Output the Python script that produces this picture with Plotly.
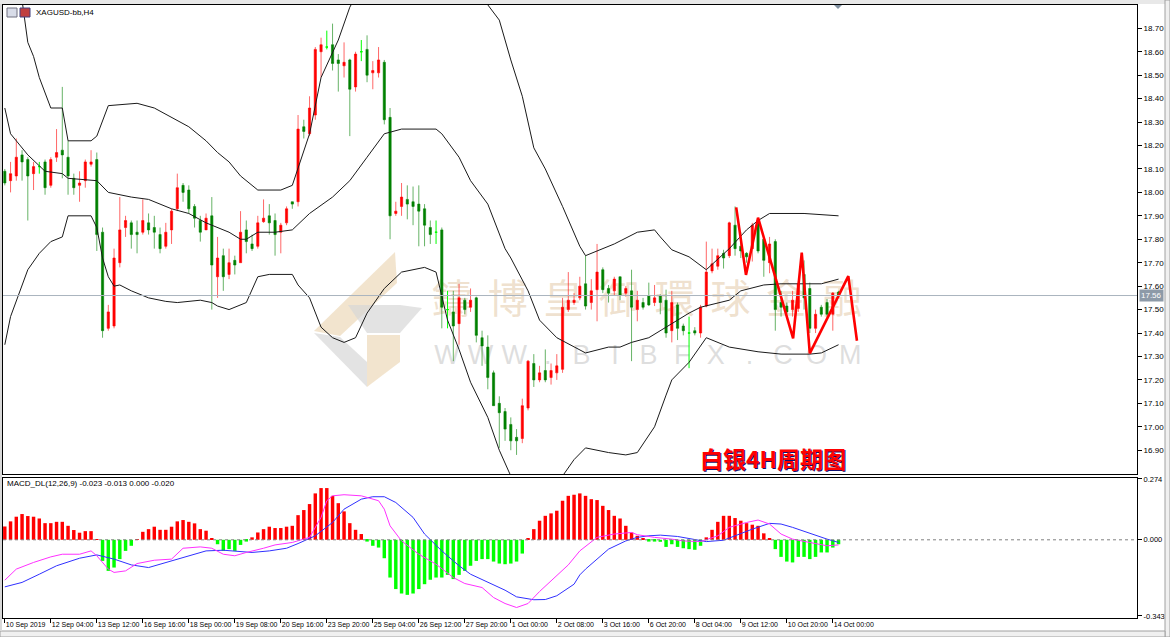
import plotly.graph_objects as go
from plotly.subplots import make_subplots

# ---------------- data ----------------
open_ = [18.09,18.05,18.07,18.16,18.14,18.08,18.11,18.13,18.03,18.15,
         18.18,18.15,18.06,18.03,18.05,18.12,18.14,17.83,17.42,17.43,
         17.70,17.85,17.87,17.83,17.83,17.87,17.85,17.82,17.77,17.84,
         17.93,18.03,18.01,17.94,17.88,17.84,17.90,17.64,17.73,17.65,
         17.71,17.70,17.84,17.78,17.77,17.875,17.90,17.88,17.83,17.87,
         17.96,17.96,18.28,18.25,18.33,18.60,18.62,18.63,18.565,18.54,
         18.565,18.45,18.60,18.61,18.51,18.51,18.555,18.32,17.91,17.94,
         17.97,17.96,17.95,17.93,17.85,17.83,17.84,17.50,17.49,17.44,
         17.54,17.51,17.55,17.38,17.34,17.23,17.10,17.065,17.01,16.955,
         16.95,17.08,17.27,17.20,17.24,17.21,17.23,17.245,17.50,17.53,
         17.55,17.61,17.53,17.585,17.67,17.59,17.58,17.64,17.57,17.58,
         17.50,17.53,17.56,17.53,17.56,17.54,17.41,17.52,17.43,17.40,
         17.41,17.40,17.515,17.665,17.685,17.74,17.73,17.86,17.77,17.74,
         17.76,17.88,17.80,17.70,17.79,17.53,17.515,17.50,17.505,17.65,
         17.59,17.42,17.51,17.53,17.48,17.575]
high = [18.10,18.13,18.23,18.18,18.15,18.13,18.13,18.14,18.15,18.27,
        18.45,18.22,18.08,18.09,18.14,18.18,18.17,17.85,17.52,17.76,
        17.98,17.90,17.88,17.88,17.97,17.91,17.90,17.85,17.87,17.93,
        18.08,18.04,18.03,17.95,17.90,17.91,17.98,17.81,17.76,17.76,
        17.73,17.92,17.88,17.82,17.90,17.97,17.95,17.91,17.87,17.94,
        17.96,18.33,18.31,18.41,18.62,18.66,18.69,18.72,18.59,18.64,
        18.57,18.60,18.65,18.67,18.56,18.62,18.565,18.36,17.96,18.04,
        18.03,18.025,18.03,17.95,17.88,17.88,17.85,17.58,17.58,17.61,
        17.55,17.59,17.555,17.41,17.39,17.24,17.13,17.08,17.04,16.99,
        17.12,17.285,17.31,17.26,17.33,17.27,17.31,17.55,17.66,17.57,
        17.64,17.73,17.63,17.78,17.68,17.605,17.64,17.64,17.60,17.67,
        17.58,17.55,17.615,17.605,17.565,17.585,17.58,17.53,17.44,17.47,
        17.425,17.52,17.79,17.76,17.76,17.755,17.875,17.94,17.83,17.745,
        17.87,17.89,17.81,17.81,17.80,17.58,17.53,17.58,17.62,17.71,
        17.615,17.50,17.52,17.545,17.575,17.58]
low = [18.03,18.00,18.05,18.05,17.88,18.01,18.08,17.99,18.02,18.13,
       18.06,17.99,17.99,17.96,18.02,18.11,17.75,17.38,17.41,17.42,
       17.68,17.81,17.76,17.74,17.82,17.82,17.76,17.74,17.76,17.78,
       17.92,17.96,17.91,17.85,17.79,17.84,17.50,17.55,17.58,17.63,
       17.65,17.70,17.74,17.75,17.76,17.87,17.82,17.73,17.74,17.86,
       17.93,17.94,18.23,18.24,18.31,18.49,18.61,18.52,18.43,18.49,
       18.24,18.43,18.56,18.47,18.44,18.49,18.29,17.80,17.90,17.90,
       17.885,17.86,17.77,17.77,17.78,17.78,17.42,17.42,17.28,17.35,
       17.48,17.49,17.36,17.26,17.16,17.09,16.91,16.94,16.90,16.88,
       16.93,17.07,17.17,17.19,17.19,17.18,17.20,17.23,17.49,17.52,
       17.54,17.50,17.50,17.45,17.57,17.53,17.56,17.54,17.555,17.28,
       17.45,17.50,17.515,17.515,17.48,17.38,17.36,17.37,17.39,17.25,
       17.39,17.38,17.51,17.655,17.67,17.675,17.72,17.73,17.72,17.70,
       17.705,17.74,17.64,17.655,17.41,17.47,17.48,17.47,17.49,17.50,
       17.40,17.40,17.47,17.47,17.41,17.55]
close_ = [18.04,18.08,18.15,18.13,18.07,18.11,18.11,18.02,18.14,18.17,
          18.16,18.07,18.02,18.04,18.13,18.13,17.82,17.41,17.49,17.72,
          17.84,17.88,17.82,17.82,17.88,17.84,17.83,17.76,17.83,17.92,
          18.02,18.00,17.93,17.89,17.83,17.89,17.69,17.72,17.64,17.70,
          17.69,17.83,17.79,17.76,17.87,17.89,17.87,17.82,17.86,17.93,
          17.95,18.27,18.26,18.36,18.61,18.63,18.62,18.55,18.55,18.555,
          18.44,18.59,18.60,18.50,18.52,18.565,18.31,17.90,17.92,17.98,
          17.95,17.94,17.92,17.86,17.82,17.83,17.51,17.50,17.43,17.55,
          17.50,17.54,17.39,17.345,17.21,17.09,17.06,16.99,16.94,16.94,
          17.09,17.28,17.20,17.23,17.20,17.24,17.26,17.51,17.54,17.54,
          17.60,17.515,17.58,17.66,17.585,17.57,17.63,17.56,17.59,17.51,
          17.54,17.51,17.52,17.55,17.53,17.40,17.53,17.42,17.41,17.40,
          17.40,17.51,17.66,17.695,17.73,17.72,17.87,17.76,17.75,17.725,
          17.86,17.75,17.71,17.78,17.50,17.51,17.49,17.54,17.61,17.55,
          17.42,17.48,17.48,17.48,17.57,17.56]
doji_bars = [6, 56, 62, 75, 77, 119]

# Bollinger bands read at sampled bars (bar index, price)
bb_upper_i = [0,2,3,4,5,6,8,10,11,15,16,18,23,26,29,32,35,37,39,41,44,48,50,53,55,58,60,
              62,66,70,75,80,84,86,88,90,92,94,97,100,101,102,106,110,113,114,116,119,
              122,126,129,131,133,139,145]
bb_upper_p = [19.20,18.95,18.82,18.64,18.58,18.49,18.36,18.36,18.22,18.22,18.24,18.37,18.38,
              18.36,18.32,18.28,18.22,18.17,18.13,18.07,18.01,18.01,18.03,18.25,18.49,18.65,
              18.79,18.88,18.95,18.98,18.97,18.92,18.80,18.735,18.565,18.41,18.19,18.10,
              17.94,17.77,17.73,17.74,17.78,17.83,17.84,17.81,17.755,17.725,17.67,17.76,
              17.84,17.88,17.91,17.91,17.90]
bb_mid_i = [0,1,4,7,10,11,16,18,22,25,29,32,35,39,41,42,44,47,50,53,57,60,63,66,69,71,75,76,
            79,81,84,87,88,91,93,96,99,101,105,107,109,112,115,119,121,126,128,132,135,139,
            142,145]
bb_mid_p = [18.36,18.25,18.16,18.09,18.08,18.06,18.05,18.00,17.98,17.97,17.93,17.91,17.87,
            17.83,17.80,17.80,17.83,17.83,17.84,17.91,17.98,18.05,18.15,18.25,18.27,18.27,
            18.27,18.25,18.15,18.05,17.95,17.76,17.72,17.58,17.455,17.38,17.34,17.315,17.34,
            17.34,17.36,17.38,17.425,17.485,17.51,17.54,17.58,17.605,17.61,17.61,17.61,17.63]
bb_lower_i = [0,1,4,6,8,10,11,15,16,17,18,19,20,22,25,28,30,34,36,37,39,42,44,46,50,51,53,
              55,57,59,61,63,66,69,73,75,77,79,81,84,86,88,90,93,95,97,99,101,105,108,110,
              113,115,116,119,122,126,131,135,140,142,145]
bb_lower_p = [17.35,17.47,17.67,17.74,17.79,17.81,17.90,17.90,17.85,17.72,17.64,17.60,17.605,
              17.58,17.55,17.535,17.53,17.54,17.53,17.515,17.50,17.53,17.64,17.65,17.65,17.605,
              17.55,17.425,17.38,17.36,17.38,17.485,17.59,17.66,17.68,17.66,17.455,17.33,17.19,
              17.04,16.90,16.79,16.72,16.70,16.73,16.79,16.86,16.91,16.89,16.88,16.89,17.00,
              17.135,17.20,17.275,17.38,17.34,17.32,17.31,17.31,17.315,17.35]

# MACD_DL histogram (one value per bar)
macd_hist = [0.060,0.083,0.104,0.116,0.107,0.104,0.096,0.075,0.075,0.081,0.081,0.063,0.044,
             0.032,0.039,0.039,0.003,
             -0.095,-0.140,-0.125,-0.087,-0.050,-0.027,0.002,
             0.036,0.048,0.059,0.045,0.045,0.059,0.083,0.089,0.081,0.074,0.048,0.041,0.006,
             -0.020,-0.050,-0.042,-0.050,-0.023,-0.008,
             0.011,0.033,0.048,0.059,0.053,0.053,0.059,0.063,0.111,0.134,0.161,0.209,0.233,
             0.233,0.198,0.165,0.128,0.075,0.045,0.026,
             -0.008,-0.027,-0.035,-0.083,-0.170,-0.222,-0.242,-0.248,-0.242,-0.222,-0.200,
             -0.180,-0.170,-0.170,-0.158,-0.177,-0.158,-0.140,-0.117,-0.095,-0.087,-0.087,
             -0.098,-0.107,-0.110,-0.107,-0.098,-0.062,
             0.006,0.048,0.086,0.108,0.119,0.131,0.176,0.198,0.203,0.209,0.198,0.183,0.179,
             0.153,0.134,0.108,0.096,0.063,0.033,0.018,0.006,
             -0.008,-0.008,-0.009,-0.032,-0.020,-0.032,-0.038,-0.042,-0.045,-0.027,
             0.011,0.045,0.081,0.108,0.108,0.098,0.086,0.075,0.068,0.063,0.029,0.006,
             -0.042,-0.077,-0.098,-0.102,-0.077,-0.077,-0.087,-0.077,-0.057,-0.057,-0.035,-0.020]
# MACD lines read at sampled bars
dif_i = [0,2,5,8,10,13,15,16,18,19,21,23,26,29,31,34,36,38,40,42,45,47,50,53,55,56,57,59,62,
         65,66,67,69,72,75,78,80,83,85,87,89,91,93,95,98,100,103,106,109,110,113,116,118,121,
         124,126,129,131,133,135,137,140,143,145]
dif_v = [-0.182,-0.132,-0.102,-0.077,-0.065,-0.065,-0.050,-0.072,-0.132,-0.147,-0.140,-0.107,
         -0.092,-0.087,-0.038,-0.032,-0.038,-0.065,-0.072,-0.057,-0.038,-0.023,-0.012,0.011,
         0.101,0.176,0.198,0.203,0.198,0.176,0.138,0.063,-0.005,-0.065,-0.110,-0.170,-0.197,
         -0.215,-0.260,-0.287,-0.305,-0.287,-0.233,-0.185,-0.113,-0.050,0.011,0.026,0.033,
         0.023,0.011,0.003,-0.005,-0.008,0.018,0.056,0.078,0.089,0.071,0.026,0.003,-0.012,
         -0.027,-0.023]
dea_i = [0,3,6,9,13,16,19,22,25,27,30,33,35,38,41,43,46,49,51,54,57,59,62,64,66,68,71,73,76,
         79,81,84,87,89,92,94,96,99,100,101,103,105,108,110,112,114,117,120,122,125,127,130,
         133,135,137,140,143,145]
dea_v = [-0.212,-0.192,-0.155,-0.117,-0.083,-0.068,-0.087,-0.113,-0.125,-0.110,-0.087,-0.065,
         -0.050,-0.047,-0.053,-0.057,-0.050,-0.038,-0.017,0.018,0.078,0.138,0.183,0.194,0.194,
         0.168,0.101,0.026,-0.050,-0.117,-0.155,-0.192,-0.227,-0.257,-0.270,-0.269,-0.252,
         -0.200,-0.158,-0.132,-0.085,-0.042,-0.005,0.011,0.018,0.021,0.015,0.003,-0.008,-0.002,
         0.018,0.048,0.074,0.071,0.056,0.029,0.003,-0.012]

# hand-drawn red zigzag (bar index, price)
zig_i = [127.2,128.9,131.0,137.1,138.6,140.0,146.7,148.2]
zig_p = [17.936,17.648,17.892,17.377,17.743,17.313,17.643,17.367]

price_ticks = [16.90,17.00,17.10,17.20,17.30,17.40,17.50,17.60,17.70,17.80,17.90,
               18.00,18.10,18.20,18.30,18.40,18.50,18.60,18.70]
macd_ticks = [0.274, 0.0, -0.343]
time_labels = ["10 Sep 2019","12 Sep 04:00","13 Sep 12:00","16 Sep 16:00","18 Sep 00:00",
               "19 Sep 08:00","20 Sep 16:00","23 Sep 20:00","25 Sep 04:00","26 Sep 12:00",
               "27 Sep 20:00","1 Oct 00:00","2 Oct 08:00","3 Oct 16:00","6 Oct 20:00",
               "8 Oct 04:00","9 Oct 12:00","10 Oct 20:00","14 Oct 00:00"]
time_label_bars = [0,8,16,24,32,40,48,56,64,72,80,88,96,104,112,120,128,136,144]
bid_price = 17.56
symbol_title = "XAGUSD-bb,H4"
macd_title = "MACD_DL(12,26,9) -0.023 -0.013 0.000 -0.020"
chart_caption = "白银4H周期图"
wm_cn = ["鑄", "博", "皇", "御", "環", "球", "金", "融"]
wm_en = ["W", "W", "W", ".", "B", "I", "B", "F", "X", ".", "C", "O", "M"]

# ---------------- geometry helpers ----------------
W, H = 1170, 637
ML, MR, MT, MB = 3, 33, 5, 19
PW, PH = W - ML - MR, H - MT - MB


def px(x):
    return (x - ML) / PW


def py(y):
    return (H - MB - y) / PH


FONT = "Liberation Sans"
n = len(close_)
norm = [i for i in range(n) if i not in doji_bars]

fig = make_subplots(rows=2, cols=1, shared_xaxes=True)

fig.add_trace(go.Candlestick(
    x=norm, open=[open_[i] for i in norm], high=[high[i] for i in norm],
    low=[low[i] for i in norm], close=[close_[i] for i in norm],
    increasing=dict(line=dict(color="rgba(255,0,0,0.6)", width=1), fillcolor="#ff0000"),
    decreasing=dict(line=dict(color="rgba(0,128,0,0.6)", width=1), fillcolor="#008000"),
    whiskerwidth=0, hoverinfo="skip"), row=1, col=1)
fig.add_trace(go.Candlestick(
    x=doji_bars, open=[open_[i] for i in doji_bars], high=[high[i] for i in doji_bars],
    low=[low[i] for i in doji_bars], close=[close_[i] for i in doji_bars],
    increasing=dict(line=dict(color="#00ff00", width=1), fillcolor="#00ff00"),
    decreasing=dict(line=dict(color="#00ff00", width=1), fillcolor="#00ff00"),
    whiskerwidth=0, hoverinfo="skip"), row=1, col=1)

for bx, by in [(bb_upper_i, bb_upper_p), (bb_mid_i, bb_mid_p), (bb_lower_i, bb_lower_p)]:
    fig.add_trace(go.Scatter(x=bx, y=by, mode="lines",
                             line=dict(color="#1a1a1a", width=1), hoverinfo="skip"),
                  row=1, col=1)

fig.add_trace(go.Scatter(x=zig_i, y=zig_p, mode="lines",
                         line=dict(color="#ff0000", width=2.6), hoverinfo="skip"),
              row=1, col=1)

fig.add_trace(go.Bar(x=list(range(n)), y=macd_hist, width=0.6,
                     marker=dict(color=["#ff0000" if v > 0 else "#00ff00" for v in macd_hist],
                                 line=dict(width=0)), hoverinfo="skip"), row=2, col=1)
fig.add_trace(go.Scatter(x=dea_i, y=dea_v, mode="lines",
                         line=dict(color="#3030ff", width=1), hoverinfo="skip"), row=2, col=1)
fig.add_trace(go.Scatter(x=dif_i, y=dif_v, mode="lines",
                         line=dict(color="#ff30ff", width=1), hoverinfo="skip"), row=2, col=1)

fig.add_hline(y=bid_price, row=1, col=1, line=dict(color="#aab4be", width=1))
fig.add_hline(y=0, row=2, col=1, line=dict(color="#808080", width=1, dash="dot"))

xr = [-(4.8 - ML) / 5.75, -(4.8 - ML) / 5.75 + PW / 5.75]
tickfont = dict(family=FONT, size=8, color="#000000")

fig.update_xaxes(range=xr, showgrid=False, zeroline=False, showline=True, mirror=True,
                 linecolor="#000000", linewidth=1, rangeslider_visible=False,
                 automargin=False)
fig.update_xaxes(showticklabels=False, ticks="", row=1, col=1)
fig.update_xaxes(tickmode="array", tickvals=time_label_bars, ticktext=time_labels,
                 ticks="outside", ticklen=4, tickcolor="#000000", tickangle=0,
                 ticklabelposition="outside right",
                 tickfont=dict(family=FONT, size=7, color="#000000"), row=2, col=1)

fig.update_yaxes(side="right", showgrid=False, zeroline=False, showline=True, mirror=True,
                 linecolor="#000000", linewidth=1, ticks="outside", ticklen=4,
                 tickcolor="#000000", tickfont=tickfont, automargin=False)
ylo = 18.70 - (474 - 28.3) / 234.4
yhi = 18.70 + (28.3 - 5) / 234.4
fig.update_yaxes(range=[ylo, yhi], tickmode="array", tickvals=price_ticks,
                 ticktext=["%.2f" % v for v in price_ticks], row=1, col=1)
fig.update_yaxes(range=[(539.8 - 618) / 222, (539.8 - 478) / 222], tickmode="array",
                 tickvals=macd_ticks, ticktext=["%.3f" % v for v in macd_ticks],
                 tickfont=dict(family=FONT, size=7.5, color="#000000"), row=2, col=1)

fig.update_layout(
    width=W, height=H, margin=dict(l=ML, r=MR, t=MT, b=MB, autoexpand=False),
    paper_bgcolor="#ffffff", plot_bgcolor="rgba(0,0,0,0)", showlegend=False,
    boxgap=0.45, bargap=0.4,
    yaxis=dict(domain=[py(474), 1.0]), yaxis2=dict(domain=[0.0, py(478)]),
)

# ---- watermark (drawn below the traces) ----
for k, ch in enumerate(wm_cn):
    cx = 452 + 55.7 * k
    fig.add_shape(type="rect", xref="paper", yref="paper", x0=px(cx - 28), x1=px(cx + 28),
                  y0=py(330), y1=py(274), line=dict(width=0), fillcolor="rgba(0,0,0,0)",
                  layer="below",
                  label=dict(text=ch, textposition="middle center",
                             font=dict(family="Noto Sans CJK TC", size=40,
                                       color="rgba(226,200,165,0.55)")))
for k, ch in enumerate(wm_en):
    cx = 447 + 33.6 * k
    fig.add_shape(type="rect", xref="paper", yref="paper", x0=px(cx - 16), x1=px(cx + 16),
                  y0=py(368), y1=py(336), line=dict(width=0), fillcolor="rgba(0,0,0,0)",
                  layer="below",
                  label=dict(text=ch, textposition="middle center",
                             font=dict(family=FONT, size=27, color="rgba(200,200,200,0.6)")))


def poly(pts):
    return "M " + " L ".join("%f,%f" % (px(a), py(b)) for a, b in pts) + " Z"


logo_beige = "rgba(236,216,185,0.7)"
logo_gray = "rgba(215,215,215,0.7)"
for pts, col in [
    ([(314, 331), (395, 252), (397, 283), (340, 336)], logo_beige),
    ([(314, 333), (340, 337), (367, 362), (367, 387)], logo_gray),
    ([(348, 305), (400, 305), (422, 308), (400, 333), (367, 333)], logo_gray),
    ([(367, 335), (400, 335), (400, 362), (367, 387)], logo_beige),
]:
    fig.add_shape(type="path", xref="paper", yref="paper", path=poly(pts),
                  fillcolor=col, line=dict(width=0), layer="below")

# ---- window chrome ----
fig.add_shape(type="rect", xref="paper", yref="paper", x0=px(0), x1=px(1170), y0=py(4),
              y1=py(0), fillcolor="#e8e8e8", line=dict(width=0))
fig.add_shape(type="rect", xref="paper", yref="paper", x0=px(1165), x1=px(1170), y0=py(637),
              y1=py(0), fillcolor="#f0f0f0", line=dict(color="#a0a0a0", width=1))
fig.add_shape(type="rect", xref="paper", yref="paper", x0=px(0), x1=px(1165), y0=py(637),
              y1=py(631), fillcolor="#f0f0f0", line=dict(color="#a0a0a0", width=1))
fig.add_shape(type="rect", xref="paper", yref="paper", x0=px(0), x1=px(2), y0=py(631),
              y1=py(4), fillcolor="#d8d8d8", line=dict(width=0))
fig.add_shape(type="path", xref="paper", yref="paper",
              path=poly([(834, 5), (842, 5), (838, 9)]), fillcolor="#8090a0",
              line=dict(width=0))
# chart icons
fig.add_shape(type="rect", xref="paper", yref="paper", x0=px(7), x1=px(17), y0=py(17),
              y1=py(8), fillcolor="#d8dce8", line=dict(color="#707080", width=1))
fig.add_shape(type="rect", xref="paper", yref="paper", x0=px(20), x1=px(30), y0=py(17),
              y1=py(8), fillcolor="#c04040", line=dict(color="#404080", width=1))

# ---- texts ----
fig.add_annotation(xref="paper", yref="paper", x=px(34), y=py(12), text=symbol_title,
                   showarrow=False, xanchor="left", yanchor="middle",
                   font=dict(family=FONT, size=8, color="#000000"))
fig.add_annotation(xref="paper", yref="paper", x=px(5), y=py(483), text=macd_title,
                   showarrow=False, xanchor="left", yanchor="middle",
                   font=dict(family=FONT, size=8, color="#000000"))
fig.add_annotation(xref="paper", yref="paper", x=px(773), y=py(458),
                   text="<b>" + chart_caption + "</b>", showarrow=False,
                   xanchor="center", yanchor="middle",
                   font=dict(family="Noto Sans CJK SC", size=23, color="#ff0000",
                             shadow="1px 1px 0px #101070"))
fig.add_annotation(xref="paper", yref="y", x=1.0, xshift=2, y=bid_price,
                   text="%.2f" % bid_price, showarrow=False, xanchor="left",
                   yanchor="middle", bgcolor="#8d9aa8", borderpad=1,
                   font=dict(family=FONT, size=8, color="#ffffff"))

fig.write_html("out.html", config={"displayModeBar": False},
               post_script="document.body.style.margin='0';"
                           "document.body.style.overflow='hidden';")
